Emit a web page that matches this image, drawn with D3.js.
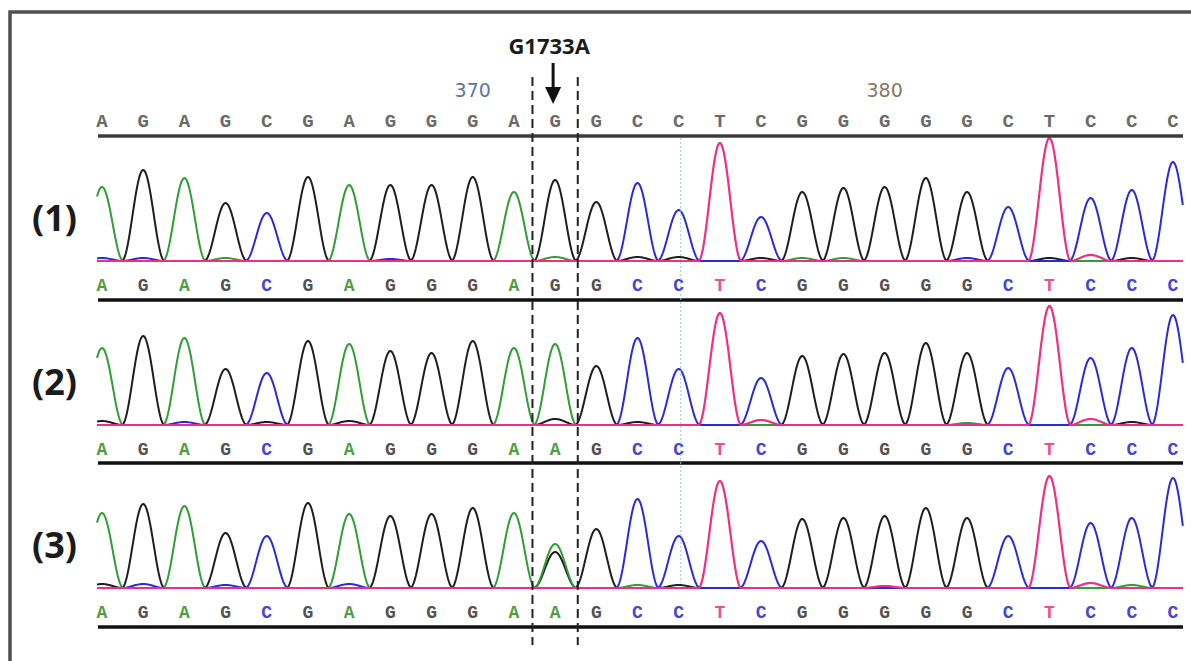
<!DOCTYPE html>
<html>
<head>
<meta charset="utf-8">
<script src="https://cdn.jsdelivr.net/npm/d3@7/dist/d3.min.js"></script>
<style>
	body { margin: 0; background: #fff; }
	svg { display: block; }
</style>
</head>
<body>
<div id="chart"></div>
<script>
// reference sequence (top row) and the base calls of the three samples
var refSeq = "AGAGCGAGGGAGGCCTCGGGGGCTCCC".split("");
var calls1 = "AGAGCGAGGGAGGCCTCGGGGGCTCCC".split("");
var calls2 = "AGAGCGAGGGAAGCCTCGGGGGCTCCC".split("");
var calls3 = "AGAGCGAGGGAAGCCTCGGGGGCTCCC".split("");

// main peak height of each called base (signal units)
var heights1 = [74, 91, 83, 58, 48, 84, 76, 76, 76, 84, 69, 81, 59, 78, 51, 118, 44, 69, 73, 74, 83, 69, 54, 123, 63, 71, 99];
var heights2 = [77, 89, 87, 56, 52, 84, 81, 74, 72, 84, 77, 81, 59, 87, 56, 112, 47, 69, 71, 72, 82, 72, 57, 119, 67, 77, 110];
var heights3 = [75, 84, 82, 55, 52, 82, 74, 72, 74, 80, 75, 44, 59, 89, 52, 107, 47, 69, 70, 72, 80, 70, 52, 112, 65, 70, 110];

// small secondary peaks: [position, base, height]
var minor1 = [[1, "C", 3], [2, "C", 3], [4, "A", 3], [8, "C", 2], [12, "A", 4], [14, "G", 4], [15, "G", 4], [17, "G", 3],
	[18, "A", 3], [19, "A", 3], [22, "C", 3], [24, "G", 3], [25, "T", 6], [26, "G", 3]];
var minor2 = [[1, "G", 4], [3, "C", 3], [5, "G", 3], [7, "G", 4], [12, "G", 6], [14, "G", 3], [17, "T", 5], [22, "A", 2],
	[25, "T", 6], [26, "G", 3]];
var minor3 = [[1, "G", 4], [2, "C", 4], [4, "C", 3], [6, "G", 3], [7, "C", 4], [12, "G", 36], [14, "A", 3], [15, "G", 3],
	[20, "T", 2], [25, "T", 5], [26, "A", 3]];

var panelLabels = ["(1)", "(2)", "(3)"];
var posLabels = [{ pos: 10, text: "370" }, { pos: 20, text: "380" }];
var mutationLabel = "G1733A";
var mutationPos = 12;
var cursorPos = 15.05;

(function() {

	'use strict';

	var width = 1191,
		height = 661,
		baseColors = { A: "#2e9e35", C: "#2b2bd6", G: "#1e1e1e", T: "#ee2f85" },
		letterColors = { A: "#4f9e3f", C: "#4646d2", G: "#555050", T: "#e8508e" },
		sepY = [136, 300, 463, 627],
		lineLeft = 98,
		lineRight = 1183,
		halfWidth = 0.52,
		x = d3.scaleLinear().domain([1, refSeq.length]).range([102, 1173]),
		panels = [
			{ calls: calls1, heights: heights1, minor: minor1 },
			{ calls: calls2, heights: heights2, minor: minor2 },
			{ calls: calls3, heights: heights3, minor: minor3 }
		];

	// peak shape: raised cosine, zero outside +-halfWidth
	function peakShape(dt) {
		if (Math.abs(dt) >= halfWidth) { return 0; }
		var c = Math.cos(Math.PI * dt / (2 * halfWidth));
		return c * c;
	}

	var svg = d3.select("#chart")
		.append("svg")
		.attr("width", width)
		.attr("height", height);

	svg.append("rect")
		.attr("width", width)
		.attr("height", height)
		.attr("fill", "#fff");

	// outer frame, cut by the right and bottom edges
	svg.append("rect")
		.attr("x", 10)
		.attr("y", 12)
		.attr("width", width + 20)
		.attr("height", height + 20)
		.attr("fill", "none")
		.attr("stroke", "#505050")
		.attr("stroke-width", 3.5);

	// reference row
	svg.append("g")
		.selectAll("text")
		.data(refSeq)
		.enter().append("text")
		.attr("x", function(d, i) { return x(i + 1); })
		.attr("y", 127)
		.attr("text-anchor", "middle")
		.attr("font-family", "Liberation Mono")
		.attr("font-weight", "bold")
		.attr("font-size", 19)
		.attr("fill", "#6a6a6a")
		.text(function(d) { return d; });

	svg.append("g")
		.selectAll("text")
		.data(posLabels)
		.enter().append("text")
		.attr("x", function(d) { return x(d.pos); })
		.attr("y", 97)
		.attr("text-anchor", "middle")
		.attr("font-family", "DejaVu Sans")
		.attr("font-size", 19)
		.attr("fill", function(d, i) { return i === 0 ? "#5a7898" : "#86775f"; })
		.text(function(d) { return d.text; });

	var xs = d3.range(x.invert(97), x.invert(lineRight) + 0.001, 0.02);

	panels.forEach(function(p, pi) {
		var baseline = sepY[pi] + 125,
			y = d3.scaleLinear().domain([0, 100]).range([baseline, baseline - 100]),
			g = svg.append("g");

		["G", "A", "C", "T"].forEach(function(b) {
			var peaks = [];
			p.calls.forEach(function(c, i) {
				if (c === b) { peaks.push([i + 1, p.heights[i]]); }
			});
			p.minor.forEach(function(m) {
				if (m[1] === b) { peaks.push([m[0], m[2]]); }
			});
			var pts = xs.map(function(t) {
				return [t, d3.sum(peaks, function(k) { return k[1] * peakShape(t - k[0]); })];
			});
			g.append("path")
				.datum(pts)
				.attr("fill", "none")
				.attr("stroke", baseColors[b])
				.attr("stroke-width", b === "T" ? 2.2 : 2)
				.attr("stroke-linejoin", "round")
				.attr("d", d3.line()
					.x(function(d) { return x(d[0]); })
					.y(function(d) { return y(d[1]); })
				);
		});

		g.append("g")
			.selectAll("text")
			.data(p.calls)
			.enter().append("text")
			.attr("x", function(d, i) { return x(i + 1); })
			.attr("y", sepY[pi] + 155)
			.attr("text-anchor", "middle")
			.attr("font-family", "Liberation Mono")
			.attr("font-weight", "bold")
			.attr("font-size", 18)
			.attr("fill", function(d) { return letterColors[d]; })
			.text(function(d) { return d; });

		svg.append("text")
			.attr("x", 32)
			.attr("y", baseline - 30)
			.attr("font-family", "Open Sans")
			.attr("font-weight", "bold")
			.attr("font-size", 36)
			.attr("fill", "#1b1b1b")
			.text(panelLabels[pi]);
	});

	// separator lines
	svg.append("g")
		.selectAll("line")
		.data(sepY)
		.enter().append("line")
		.attr("x1", lineLeft)
		.attr("x2", lineRight)
		.attr("y1", function(d) { return d; })
		.attr("y2", function(d) { return d; })
		.attr("stroke", function(d, i) { return i === 0 ? "#3c3c3c" : "#111"; })
		.attr("stroke-width", 3.5);

	// cursor line
	svg.append("line")
		.attr("x1", x(cursorPos))
		.attr("x2", x(cursorPos))
		.attr("y1", sepY[0] + 2)
		.attr("y2", sepY[3] - 44)
		.attr("stroke", "#86cdee")
		.attr("stroke-width", 1)
		.attr("stroke-dasharray", "2,2");

	// mutation site box
	svg.append("g")
		.selectAll("line")
		.data([mutationPos - 0.55, mutationPos + 0.55])
		.enter().append("line")
		.attr("x1", function(d) { return x(d); })
		.attr("x2", function(d) { return x(d); })
		.attr("y1", 77)
		.attr("y2", 645)
		.attr("stroke", "#222")
		.attr("stroke-width", 2)
		.attr("stroke-dasharray", "9,5");

	var mx = x(mutationPos) - 2;

	svg.append("line")
		.attr("x1", mx)
		.attr("x2", mx)
		.attr("y1", 63)
		.attr("y2", 90)
		.attr("stroke", "#111")
		.attr("stroke-width", 3);

	svg.append("path")
		.attr("d", "M" + (mx - 8) + ",87L" + (mx + 8) + ",87L" + mx + ",104Z")
		.attr("fill", "#111");

	svg.append("text")
		.attr("x", mx - 4)
		.attr("y", 54)
		.attr("text-anchor", "middle")
		.attr("font-family", "Open Sans")
		.attr("font-weight", "bold")
		.attr("font-size", 22)
		.attr("fill", "#1b1b1b")
		.text(mutationLabel);

})();
</script>
</body>
</html>
